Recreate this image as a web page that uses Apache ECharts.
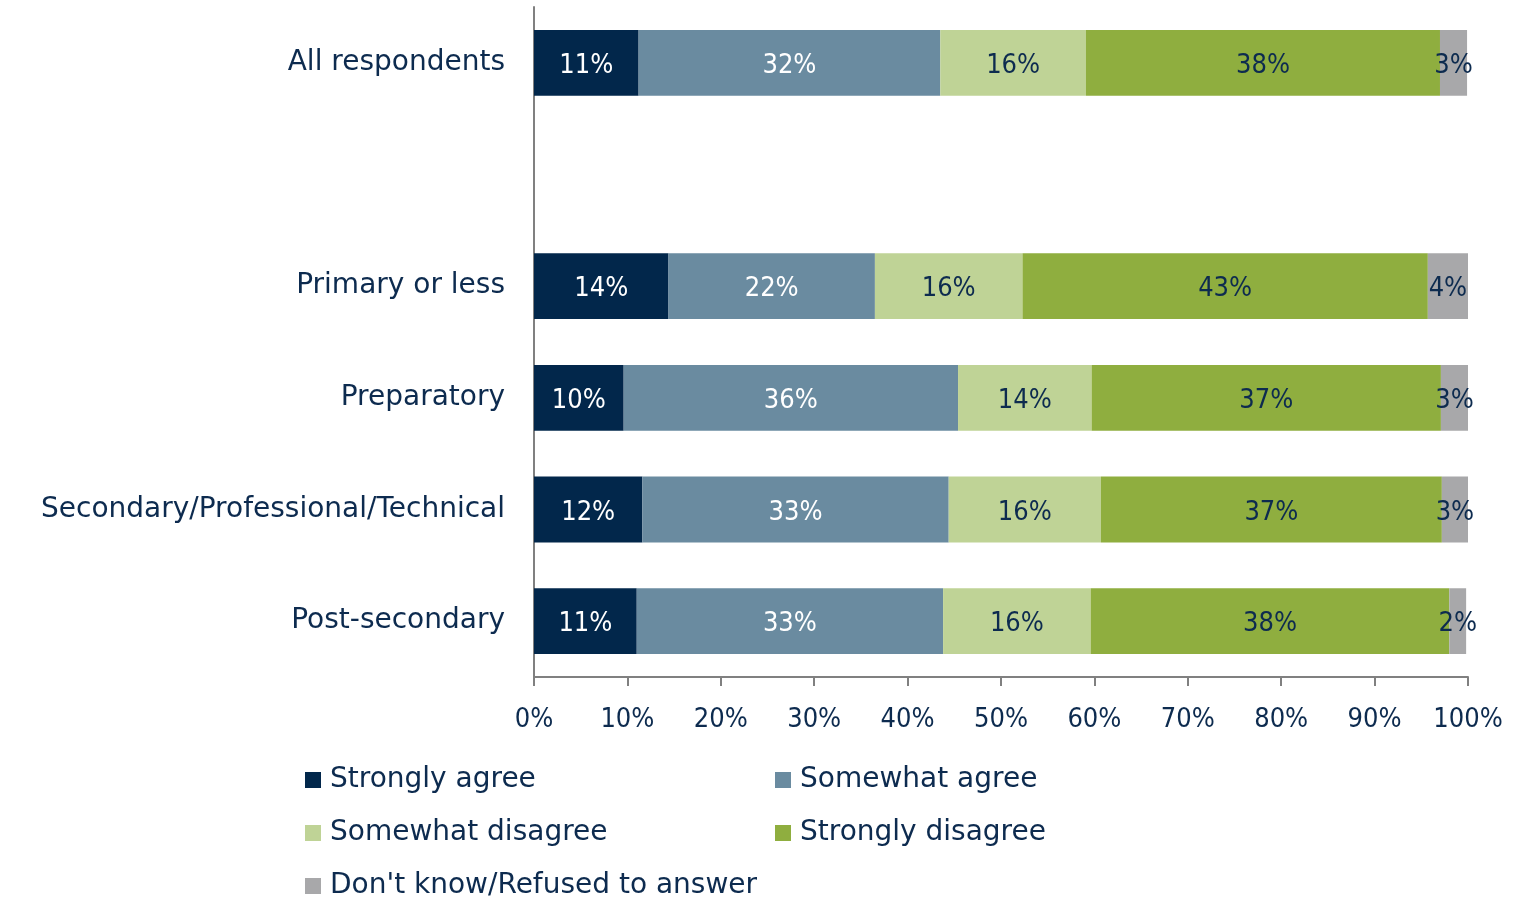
<!DOCTYPE html>
<html>
<head>
<meta charset="utf-8">
<script src="https://cdn.jsdelivr.net/npm/echarts@6/dist/echarts.min.js"></script>
<style>
html,body{margin:0;padding:0;background:#fff;}
#chart{width:1514px;height:898px;}
</style>
</head>
<body>
<div id="chart"></div>
<script>
var categories = ['All respondents', '', 'Primary or less', 'Preparatory', 'Secondary/Professional/Technical', 'Post-secondary'];
var seriesNames = ['Strongly agree', 'Somewhat agree', 'Somewhat disagree', 'Strongly disagree', "Don't know/Refused to answer"];
var stronglyAgree    = [11.2, null, 14.4, 9.6, 11.6, 11.0];
var somewhatAgree    = [32.3, null, 22.1, 35.8, 32.8, 32.8];
var somewhatDisagree = [15.6, null, 15.8, 14.3, 16.3, 15.8];
var stronglyDisagree = [37.9, null, 43.4, 37.4, 36.5, 38.4];
var dontKnow         = [2.9, null, 4.3, 2.9, 2.9, 1.8];
var xTicks = [0, 10, 20, 30, 40, 50, 60, 70, 80, 90, 100];

var colors = ['#02274B', '#6A8BA0', '#BFD396', '#8FAE3F', '#A8A8AA'];
var labelColors = ['#ffffff', '#ffffff', '#0D2B4F', '#0D2B4F', '#0D2B4F'];
var values = [stronglyAgree, somewhatAgree, somewhatDisagree, stronglyDisagree, dontKnow];
var FONT = '"DejaVu Sans", sans-serif';
var NUMFONT = '"DejaVu Sans Condensed", "DejaVu Sans", sans-serif';
var TXT = '#0D2B4F';

var series = seriesNames.map(function (name, i) {
  return {
    name: name,
    type: 'bar',
    stack: 'total',
    barCategoryGap: '41%',
    itemStyle: { color: colors[i] },
    label: {
      show: true,
      position: 'inside',
      offset: [0, 3],
      color: labelColors[i],
      fontFamily: NUMFONT,
      fontSize: 27,
      formatter: function (p) { return p.value == null ? '' : Math.round(p.value) + '%'; }
    },
    data: values[i]
  };
});

var legendPos = [
  { left: 305, top: 765 },
  { left: 775, top: 765 },
  { left: 305, top: 818 },
  { left: 775, top: 818 },
  { left: 305, top: 871 }
];
var legends = seriesNames.map(function (name, i) {
  return {
    data: [name],
    left: legendPos[i].left,
    top: legendPos[i].top,
    padding: 0,
    itemWidth: 16,
    itemHeight: 16,
    icon: 'rect',
    textStyle: { color: TXT, fontFamily: FONT, fontSize: 28, lineHeight: 30, padding: [0, 0, 0, 4] }
  };
});

var chart = echarts.init(document.getElementById('chart'));
chart.setOption({
  animation: false,
  backgroundColor: '#ffffff',
  legend: legends,
  grid: { left: 534, right: 46, top: 7, bottom: 221, containLabel: false },
  xAxis: {
    type: 'value',
    min: xTicks[0],
    max: xTicks[xTicks.length - 1],
    interval: 10,
    axisLine: { show: true, lineStyle: { color: '#808080', width: 2 } },
    axisTick: { show: true, length: 9, lineStyle: { color: '#808080', width: 2 } },
    splitLine: { show: false },
    axisLabel: { color: TXT, fontFamily: NUMFONT, fontSize: 27, margin: 29, formatter: '{value}%' }
  },
  yAxis: {
    type: 'category',
    data: categories,
    inverse: true,
    axisLine: { show: true, lineStyle: { color: '#808080', width: 2 } },
    axisTick: { show: false },
    axisLabel: { color: TXT, fontFamily: FONT, fontSize: 28, margin: 29, padding: [5, 0, 0, 0] }
  },
  series: series
});
</script>
</body>
</html>
